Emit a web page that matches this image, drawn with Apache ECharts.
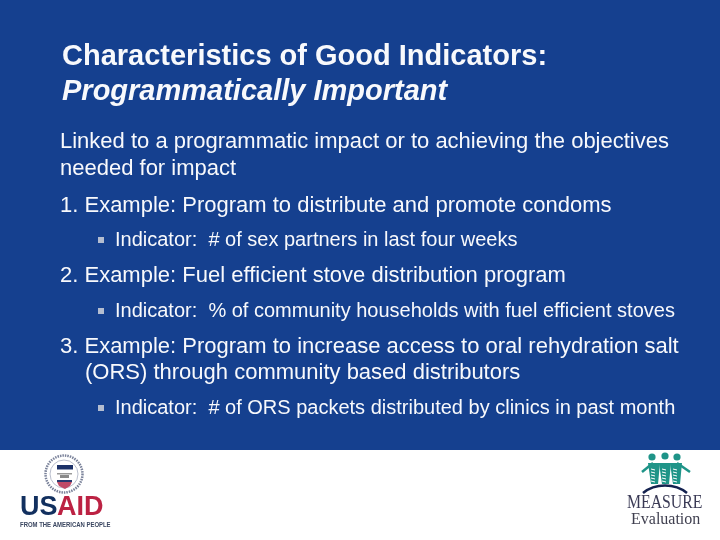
<!DOCTYPE html>
<html>
<head>
<meta charset="utf-8">
<style>html,body{margin:0;padding:0;background:#fff}#main{width:720px;height:540px}</style>
<script src="https://cdn.jsdelivr.net/npm/echarts@6/dist/echarts.min.js"></script>
</head>
<body>
<div id="main"></div>
<script>
var titleLines = ['Characteristics of Good Indicators:', 'Programmatically Important'];
var bodyLines = [
    'Linked to a programmatic impact or to achieving the objectives',
    'needed for impact',
    '1. Example: Program to distribute and promote condoms',
    '2. Example: Fuel efficient stove distribution program',
    '3. Example: Program to increase access to oral rehydration salt',
    '(ORS) through community based distributors'
];
var indicatorLines = [
    'Indicator:  # of sex partners in last four weeks',
    'Indicator:  % of community households with fuel efficient stoves',
    'Indicator:  # of ORS packets distributed by clinics in past month'
];

var chart = echarts.init(document.getElementById('main'), null, {renderer: 'canvas'});
var sans = '"Liberation Sans", Arial, sans-serif';
var serif = '"Liberation Serif", "Times New Roman", serif';
var blue = '#15408F';
var white = '#F8F9FC';

function label(x, y, str, size, opts) {
    opts = opts || {};
    return {
        type: 'text', x: x, y: y,
        scaleX: opts.scaleX || 1,
        style: {
            text: str,
            fill: opts.fill || white,
            font: (opts.style || '') + ' ' + size + 'px ' + (opts.family || sans),
            textAlign: 'left',
            textVerticalAlign: 'middle'
        }
    };
}

var els = [];
els.push({type: 'rect', shape: {x: 0, y: 0, width: 720, height: 450}, style: {fill: blue}});

// title
els.push(label(62, 57, titleLines[0], 29, {style: 'bold'}));
els.push(label(62, 92, titleLines[1], 29, {style: 'italic bold'}));

// body
els.push(label(60, 142, bodyLines[0], 22));
els.push(label(60, 169, bodyLines[1], 22));
els.push(label(60, 206, bodyLines[2], 22));
els.push(label(60, 276, bodyLines[3], 22));
els.push(label(60, 347, bodyLines[4], 22));
els.push(label(85, 373, bodyLines[5], 22));

// indicators with square bullets
[[240, 0], [311, 1], [408, 2]].forEach(function (row) {
    els.push({type: 'rect', shape: {x: 98, y: row[0] - 3, width: 6, height: 6}, style: {fill: '#B4BDD0'}});
    els.push(label(115, row[0], indicatorLines[row[1]], 20));
});

// USAID logo
els.push({type: 'circle', shape: {cx: 64, cy: 474, r: 18.5}, style: {fill: '#fff', stroke: '#7A829A', lineWidth: 2.5, lineDash: [1.5, 1]}});
els.push({type: 'circle', shape: {cx: 64, cy: 474, r: 14}, style: {fill: '#fff', stroke: '#A8AEC0', lineWidth: 0.8}});
els.push({type: 'rect', shape: {x: 57, y: 465, width: 16, height: 4.5}, style: {fill: '#1C3168'}});
els.push({type: 'rect', shape: {x: 57, y: 473, width: 15, height: 1.5}, style: {fill: '#9A9A9A'}});
els.push({type: 'rect', shape: {x: 60, y: 475, width: 9, height: 3}, style: {fill: '#8A8A8A'}});
els.push({type: 'rect', shape: {x: 57, y: 480, width: 15, height: 2}, style: {fill: '#28386E'}});
els.push({type: 'polygon', shape: {points: [[57, 482], [72, 482], [70, 486], [65, 489], [59, 486]]}, style: {fill: '#C04A66'}});
els.push(label(20, 508, 'US', 27, {style: 'bold', fill: '#12305F'}));
els.push(label(57, 508, 'AID', 27, {style: 'bold', fill: '#BC2243'}));
els.push(label(20, 525, 'FROM THE AMERICAN PEOPLE', 7, {style: 'bold', fill: '#3A4660', scaleX: 0.85}));

// MEASURE Evaluation logo
var teal = '#1F9488';
[[652, 457], [665, 456], [677, 457]].forEach(function (h) {
    els.push({type: 'circle', shape: {cx: h[0], cy: h[1], r: 3.6}, style: {fill: teal}});
});
[[653, 463, 642, 472], [677, 463, 690, 472]].forEach(function (a) {
    els.push({type: 'line', shape: {x1: a[0], y1: a[1], x2: a[2], y2: a[3]}, style: {stroke: teal, lineWidth: 2.5}});
});
[[648, 660], [659, 671], [670, 682]].forEach(function (b) {
    els.push({type: 'polygon', shape: {points: [[b[0], 463], [b[1], 463], [b[1] - 2, 484], [b[0] + 3, 484]]}, style: {fill: teal}});
    for (var y = 469; y < 484; y += 3) {
        els.push({type: 'line', shape: {x1: b[0] + 3, y1: y, x2: b[0] + 7, y2: y + 1}, style: {stroke: '#fff', lineWidth: 1}});
    }
});
els.push({type: 'bezierCurve', shape: {x1: 643, y1: 493, cpx1: 655, cpy1: 483, cpx2: 675, cpy2: 483, x2: 687, y2: 493}, style: {stroke: '#14224F', lineWidth: 2.5, fill: 'none'}});
els.push(label(627, 503, 'MEASURE', 19, {family: serif, fill: '#3A3A55', scaleX: 0.83}));
els.push(label(631, 520, 'Evaluation', 16, {family: serif, fill: '#3F3F4F'}));

chart.setOption({
    animation: false,
    backgroundColor: '#fff',
    graphic: {elements: els}
});
</script>
</body>
</html>
